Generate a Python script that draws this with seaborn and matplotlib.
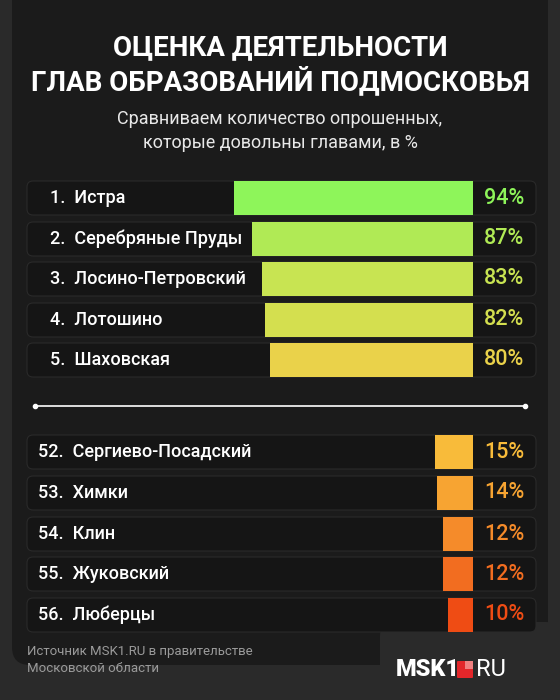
import matplotlib.pyplot as plt
import seaborn as sns
from matplotlib.patches import FancyBboxPatch

labels = ["1.  Истра", "2.  Серебряные Пруды", "3.  Лосино-Петровский", "4.  Лотошино",
          "5.  Шаховская", "52.  Сергиево-Посадский", "53.  Химки", "54.  Клин",
          "55.  Жуковский", "56.  Люберцы"]
values = [94, 87, 83, 82, 80, 15, 14, 12, 12, 10]
colors = ["#8ef55a", "#b0ea55", "#c8e452", "#d4df4f", "#ead24a",
          "#f8bb3a", "#f7a432", "#f58b2a", "#f26d20", "#ef4c14"]
row_y = [198, 239, 279, 320, 360, 452, 493, 534, 574, 615]

W, H = 560, 700
PX_PER_PCT = 2.54
ZERO_X = 473

sns.set_theme(style="white")
plt.rcParams["font.family"] = ["Roboto", "DejaVu Sans"]

fig = plt.figure(figsize=(W / 100, H / 100), dpi=100)
fig.patch.set_facecolor("#2a2a2a")
ax = fig.add_axes([0, 0, 1, 1])
ax.set_xlim(ZERO_X / PX_PER_PCT, -(W - ZERO_X) / PX_PER_PCT)
ax.set_ylim(H, 0)
ax.axis("off")


def px_box(x0, y0, w, h, fc, ec="none", r=10, z=0):
    p = FancyBboxPatch((x0 / W, 1 - (y0 + h) / H), w / W, h / H,
                       boxstyle=f"round,pad=0,rounding_size={r / W}",
                       transform=fig.transFigure, fc=fc, ec=ec, lw=0.8, zorder=z,
                       mutation_aspect=W / H)
    fig.add_artist(p)


# card background
px_box(12, -20, 536, 685, "#1b1b1b", r=18, z=-5)
px_box(380, 622, 180, 80, "#2a2a2a", r=14, z=-4)
for y in row_y:
    px_box(27, y - 17, 509, 34, "#151515", ec="#2a2a2a", r=6, z=-3)

ax.barh(row_y, values, height=34, color=colors, edgecolor="none", linewidth=0, zorder=3)

fig.text(0.5, 1 - 48 / H, "ОЦЕНКА ДЕЯТЕЛЬНОСТИ", ha="center", va="center",
         color="white", fontsize=20, fontweight="bold")
fig.text(0.5, 1 - 81 / H, "ГЛАВ ОБРАЗОВАНИЙ ПОДМОСКОВЬЯ", ha="center", va="center",
         color="white", fontsize=20, fontweight="bold")
fig.text(0.5, 1 - 119 / H, "Сравниваем количество опрошенных,", ha="center", va="center",
         color="#e8e8e8", fontsize=13)
fig.text(0.5, 1 - 143 / H, "которые довольны главами, в %", ha="center", va="center",
         color="#e8e8e8", fontsize=13)

for i, (lab, v, c, y) in enumerate(zip(labels, values, colors, row_y)):
    x = 50 if i < 5 else 38
    fig.text(x / W, 1 - y / H, lab, ha="left", va="center", color="white",
             fontsize=13, fontweight="medium")
    fig.text(524 / W, 1 - y / H, f"{v}%", ha="right", va="center", color=c,
             fontsize=15.5, fontweight="medium")

# divider
fig.add_artist(plt.Line2D([35 / W, 525 / W], [1 - 406 / H] * 2, color="white", lw=1.2,
                          transform=fig.transFigure, marker="o", markersize=3,
                          markevery=[0, 1]))

fig.text(27 / W, 1 - 651 / H, "Источник MSK1.RU в правительстве", ha="left", va="center",
         color="#9a9a9a", fontsize=9.5)
fig.text(27 / W, 1 - 668 / H, "Московской области", ha="left", va="center",
         color="#9a9a9a", fontsize=9.5)
fig.text(396 / W, 1 - 669 / H, "MSK1", ha="left", va="center", color="white",
         fontsize=17, fontweight="black")
px_box(457, 661, 16, 17, "#e3262a", r=1, z=5)
px_box(465, 661, 8, 8, "#f08080", r=0, z=6)
fig.text(476 / W, 1 - 669 / H, "RU", ha="left", va="center", color="white", fontsize=17)

fig.savefig("out.png", dpi=100, facecolor=fig.get_facecolor())
